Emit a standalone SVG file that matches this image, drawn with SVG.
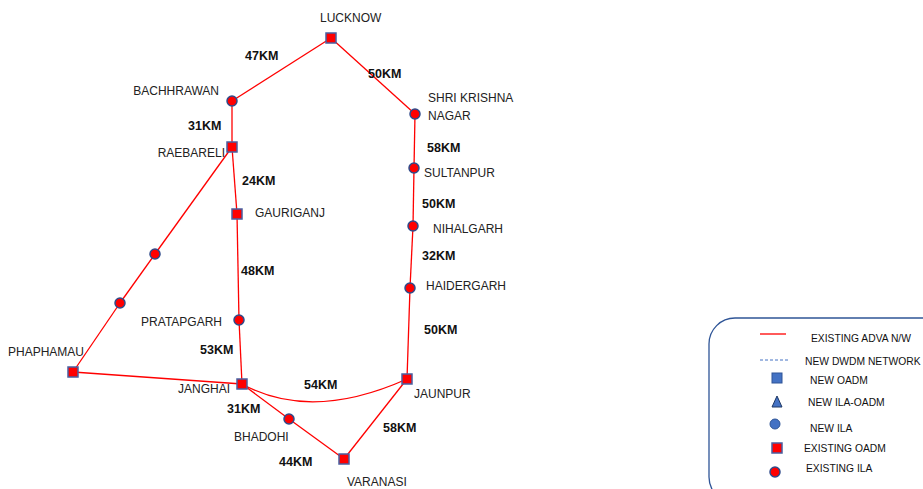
<svg xmlns="http://www.w3.org/2000/svg" width="923" height="489" viewBox="0 0 923 489">
<defs>
<style>
.lbl{font-family:"Liberation Sans",Arial,sans-serif;font-size:12px;fill:#222}
.km{font-family:"Liberation Sans",Arial,sans-serif;font-size:12.5px;font-weight:bold;fill:#111}
.lg{font-family:"Liberation Sans",Arial,sans-serif;font-size:10.3px;fill:#111}
.link{stroke:#ff0000;stroke-width:1.3;fill:none}
.sq{fill:#ff0000;stroke:#4a5fa0;stroke-width:1.5}
.ci{fill:#ff0000;stroke:#2f4a8a;stroke-width:1.5}
</style>
</defs>
<rect width="923" height="489" fill="#ffffff"/>
<g id="connectors">
<line class="link" x1="331" y1="38" x2="232" y2="101"/>
<line class="link" x1="331" y1="38" x2="415" y2="114"/>
<line class="link" x1="232" y1="101" x2="232" y2="147"/>
<line class="link" x1="232" y1="147" x2="237" y2="214"/>
<line class="link" x1="237" y1="214" x2="239" y2="320"/>
<line class="link" x1="239" y1="320" x2="242" y2="384"/>
<line class="link" x1="232" y1="147" x2="155" y2="254"/>
<line class="link" x1="155" y1="254" x2="120" y2="303"/>
<line class="link" x1="120" y1="303" x2="73" y2="372"/>
<line class="link" x1="73" y1="372" x2="242" y2="384"/>
<path class="link" d="M242,384 Q311,422 407,379"/>
<line class="link" x1="242" y1="384" x2="289" y2="419"/>
<line class="link" x1="289" y1="419" x2="344" y2="459"/>
<line class="link" x1="344" y1="459" x2="407" y2="379"/>
<line class="link" x1="407" y1="379" x2="410" y2="288"/>
<line class="link" x1="410" y1="288" x2="413" y2="226"/>
<line class="link" x1="413" y1="226" x2="414" y2="168"/>
<line class="link" x1="414" y1="168" x2="415" y2="114"/>
</g>
<g id="lucknow"><rect class="sq" x="326" y="33" width="10" height="10"/><text class="lbl" x="320" y="22">LUCKNOW</text></g>
<g id="bachhrawan"><circle class="ci" cx="232" cy="101" r="5"/><text class="lbl" x="219" y="95" text-anchor="end">BACHHRAWAN</text></g>
<g id="raebareli"><rect class="sq" x="227" y="142" width="10" height="10"/><text class="lbl" x="225" y="157" text-anchor="end">RAEBARELI</text></g>
<g id="gauriganj"><rect class="sq" x="232" y="209" width="10" height="10"/><text class="lbl" x="255" y="217">GAURIGANJ</text></g>
<g id="pratapgarh"><circle class="ci" cx="239" cy="320" r="5"/><text class="lbl" x="222" y="326" text-anchor="end">PRATAPGARH</text></g>
<g id="janghai"><rect class="sq" x="237" y="379" width="10" height="10"/><text class="lbl" x="230" y="393" text-anchor="end">JANGHAI</text></g>
<g id="phaphamau"><rect class="sq" x="68" y="367" width="10" height="10"/><text class="lbl" x="8" y="356">PHAPHAMAU</text></g>
<g id="ila1"><circle class="ci" cx="155" cy="254" r="5"/></g>
<g id="ila2"><circle class="ci" cx="120" cy="303" r="5"/></g>
<g id="bhadohi"><circle class="ci" cx="289" cy="419" r="5"/><text class="lbl" x="234" y="441">BHADOHI</text></g>
<g id="varanasi"><rect class="sq" x="339" y="454" width="10" height="10"/><text class="lbl" x="347" y="486">VARANASI</text></g>
<g id="jaunpur"><rect class="sq" x="402" y="374" width="10" height="10"/><text class="lbl" x="414" y="398">JAUNPUR</text></g>
<g id="haidergarh"><circle class="ci" cx="410" cy="288" r="5"/><text class="lbl" x="426" y="290">HAIDERGARH</text></g>
<g id="nihalgarh"><circle class="ci" cx="413" cy="226" r="5"/><text class="lbl" x="433" y="233">NIHALGARH</text></g>
<g id="sultanpur"><circle class="ci" cx="414" cy="168" r="5"/><text class="lbl" x="424" y="177">SULTANPUR</text></g>
<g id="shrikrishnanagar"><circle class="ci" cx="415" cy="114" r="5"/><text class="lbl" x="428" y="102">SHRI KRISHNA</text><text class="lbl" x="428" y="120">NAGAR</text></g>
<g id="distances">
<text class="km" x="245" y="60">47KM</text>
<text class="km" x="368" y="78">50KM</text>
<text class="km" x="188" y="130">31KM</text>
<text class="km" x="242" y="185">24KM</text>
<text class="km" x="427" y="152">58KM</text>
<text class="km" x="422" y="208">50KM</text>
<text class="km" x="422" y="260">32KM</text>
<text class="km" x="241" y="275">48KM</text>
<text class="km" x="200" y="354">53KM</text>
<text class="km" x="424" y="334">50KM</text>
<text class="km" x="304" y="389">54KM</text>
<text class="km" x="227" y="413">31KM</text>
<text class="km" x="383" y="432">58KM</text>
<text class="km" x="279" y="466">44KM</text>
</g>
<g id="legend">
<rect x="709" y="318" width="240" height="185" rx="26" fill="none" stroke="#2f5597" stroke-width="1.3"/>
<line x1="760" y1="334" x2="786" y2="334" stroke="#ff0000" stroke-width="1.3"/>
<text class="lg" x="811" y="342">EXISTING ADVA N/W</text>
<line x1="760" y1="360" x2="789" y2="360" stroke="#4472c4" stroke-width="1" stroke-dasharray="3,2"/>
<text class="lg" x="805" y="365">NEW DWDM NETWORK</text>
<rect x="772" y="373" width="10" height="10" fill="#4472c4" stroke="#2f5597" stroke-width="1"/>
<text class="lg" x="810" y="384">NEW OADM</text>
<polygon points="777,396 782,407 772,407" fill="#4472c4" stroke="#1f3864" stroke-width="1"/>
<text class="lg" x="808" y="406">NEW ILA-OADM</text>
<circle cx="775" cy="424" r="5" fill="#4472c4" stroke="#2f5597" stroke-width="1"/>
<text class="lg" x="810" y="432">NEW ILA</text>
<rect x="772" y="443" width="10" height="10" fill="#ff0000" stroke="#4a5fa0" stroke-width="1.5"/>
<text class="lg" x="804" y="452">EXISTING OADM</text>
<circle cx="775" cy="472" r="5" fill="#ff0000" stroke="#2f4a8a" stroke-width="1.5"/>
<text class="lg" x="806" y="472">EXISTING ILA</text>
</g>
</svg>
